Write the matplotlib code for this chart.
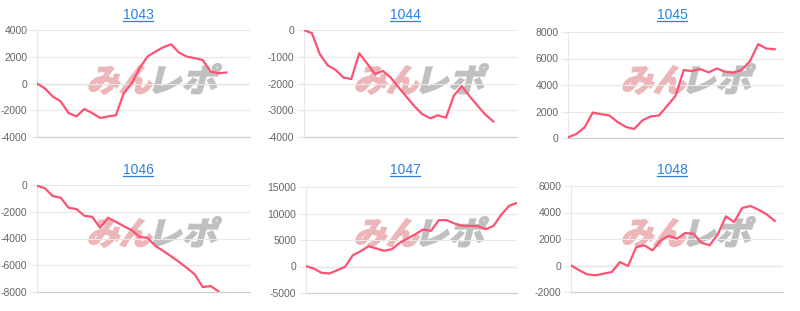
import matplotlib
matplotlib.use('Agg')
import matplotlib.pyplot as plt
import numpy as np
from matplotlib.font_manager import FontProperties
from matplotlib.textpath import TextPath
from matplotlib.patches import PathPatch
from matplotlib.transforms import Affine2D, IdentityTransform
from matplotlib.lines import Line2D

# machine numbers and their running difference (coins)
titles = ['1043', '1044', '1045', '1046', '1047', '1048']

s1043 = [0, -370, -970, -1340, -2210, -2460, -1910, -2210, -2580, -2460, -2380,
         -720, 0, 1140, 2010, 2380, 2710, 2930, 2310, 2010, 1890, 1760, 890, 770, 820]
s1044 = [0, -120, -900, -1320, -1490, -1780, -1830, -870, -1250, -1650, -1530,
         -1780, -2150, -2500, -2850, -3150, -3300, -3190, -3280, -2450, -2100,
         -2480, -2830, -3170, -3420]
s1045 = [50, 300, 800, 1920, 1800, 1700, 1200, 830, 680, 1330, 1630, 1700, 2430,
         3180, 5130, 5050, 5200, 4950, 5250, 5000, 4930, 5130, 5800, 7080, 6750, 6700]
s1046 = [-50, -250, -830, -950, -1700, -1800, -2300, -2380, -3200, -2450, -2750,
         -3080, -3380, -3880, -3950, -4550, -4930, -5330, -5750, -6200, -6680,
         -7630, -7550, -7950]
s1047 = [60, -380, -1200, -1320, -690, -60, 2140, 2890, 3840, 3400, 2960, 3270,
         4470, 5280, 6100, 6980, 6730, 8740, 8740, 8110, 7670, 7670, 7610, 7040,
         7670, 9810, 11450, 12010]
s1048 = [10, -360, -670, -740, -620, -490, 260, -40, 1400, 1520, 1140, 1900, 2230,
         2030, 2450, 2400, 1720, 1520, 2350, 3710, 3280, 4340, 4490, 4210, 3860, 3360]

series = [s1043, s1044, s1045, s1046, s1047, s1048]
n_slots = [28, 28, 27, 28, 28, 27]
y_ticks = [
    [-4000, -2000, 0, 2000, 4000],
    [-4000, -3000, -2000, -1000, 0],
    [0, 2000, 4000, 6000, 8000],
    [-8000, -6000, -4000, -2000, 0],
    [-5000, 0, 5000, 10000, 15000],
    [-2000, 0, 2000, 4000, 6000],
]

W, H = 800, 311
# axes boxes in pixels: left, right, top, bottom
boxes = [(37, 250, 30, 137), (304, 517, 30, 137), (568, 783, 32, 138),
         (37, 250, 185, 292), (306, 517, 187, 293), (571, 783, 186, 292)]
title_pos = [(138, 15), (405, 15), (672, 15), (138, 170), (405, 170), (672, 170)]
logo_pos = [(151, 80), (418, 80), (685, 80), (151, 233), (418, 233), (685, 233)]

LINE = '#fd5272'
GRID = '#e8e8e8'
TICK = '#666666'
TITLE = '#2f7fdc'

plt.rcParams['font.family'] = ['Liberation Sans', 'DejaVu Sans']
fig = plt.figure(figsize=(W / 100, H / 100), dpi=100)


def watermark(cx, cy):
    # logo drawn as skewed text outlines, in pixel coordinates
    fp = FontProperties(family=['Noto Sans CJK JP'], weight='bold')
    p1 = TextPath((0, 0), 'みん', size=32, prop=fp)
    p2 = TextPath((0, 0), 'レポ', size=32, prop=fp)
    e1, e2 = p1.get_extents(), p2.get_extents()
    gap = 3
    total = 62 * 2 + gap
    x0 = cx - total / 2
    y0 = (H - cy) - e1.height / 2
    t1 = (Affine2D().translate(-e1.x0, -e1.y0).scale(62 / e1.width, 1.0)
          .skew_deg(14, 0).translate(x0, y0))
    t2 = (Affine2D().translate(-e2.x0, -e1.y0).scale(62 / e2.width, 1.0)
          .skew_deg(14, 0).translate(x0 + 62 + gap, y0))
    fig.add_artist(PathPatch(p1, transform=t1, facecolor='#edb6b9',
                             edgecolor='#edb6b9', lw=1.4, zorder=-1))
    fig.add_artist(PathPatch(p2, transform=t2, facecolor='#c0c0c0',
                             edgecolor='#c0c0c0', lw=1.4, zorder=-1))


title_texts = []
for i, data in enumerate(series):
    l, r, t, b = boxes[i]
    ax = fig.add_axes([l / W, (H - b) / H, (r - l) / W, (b - t) / H])
    ax.set_facecolor('none')
    ax.plot(np.arange(len(data)), data, color=LINE, lw=1.6, zorder=3,
            solid_joinstyle='round')
    ax.set_xlim(0, n_slots[i] - 1)
    ticks = y_ticks[i]
    ax.set_ylim(ticks[0], ticks[-1])
    ax.set_yticks(ticks)
    ax.set_yticklabels([str(v) for v in ticks])
    ax.set_xticks([])
    ax.grid(axis='y', color=GRID, lw=0.8, zorder=0)
    if ticks[0] < 0 < ticks[-1]:
        ax.axhline(0, color='#c4c4c4', lw=0.9, zorder=1)
    ax.tick_params(axis='y', length=5, width=0.8, color=GRID, pad=2,
                   labelsize=7.5, labelcolor=TICK)
    for side in ['top', 'right']:
        ax.spines[side].set_visible(False)
    ax.spines['left'].set_color(GRID)
    ax.spines['left'].set_linewidth(0.8)
    ax.spines['bottom'].set_color('#cfcfcf')
    ax.spines['bottom'].set_linewidth(0.9)

    tx, ty = title_pos[i]
    title_texts.append(fig.text(tx / W, 1 - ty / H, titles[i], color=TITLE,
                                fontsize=10, ha='center', va='center'))
    watermark(*logo_pos[i])

# underline the titles like links
fig.canvas.draw()
renderer = fig.canvas.get_renderer()
for txt in title_texts:
    bb = txt.get_window_extent(renderer)
    fig.add_artist(Line2D([bb.x0, bb.x1], [bb.y0 + 1, bb.y0 + 1], color=TITLE,
                          lw=0.9, transform=IdentityTransform()))

fig.savefig('out.png', dpi=100)
